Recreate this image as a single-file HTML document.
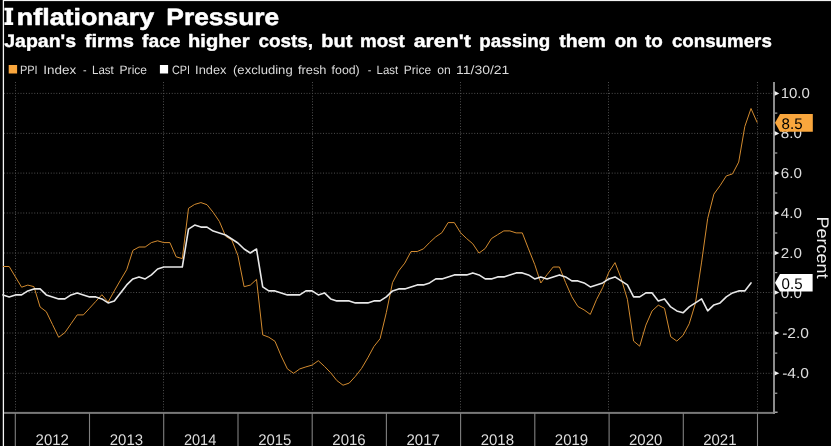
<!DOCTYPE html>
<html><head><meta charset="utf-8"><title>Inflationary Pressure</title>
<style>
html,body{margin:0;padding:0;background:#000;}
body{width:831px;height:446px;overflow:hidden;font-family:"Liberation Sans",sans-serif;}
svg{will-change:transform;display:block;position:absolute;left:0;top:0;}
svg text{font-family:"Liberation Sans",sans-serif;text-rendering:geometricPrecision;}
</style></head><body>
<svg width="831" height="446" viewBox="0 0 831 446">
<rect width="831" height="446" fill="#000"/>
<!-- frame lines -->
<rect x="3" y="0" width="828" height="1.1" fill="#f2f2f2"/>
<rect x="2.75" y="0" width="1.3" height="446" fill="#f6f6f6"/>
<!-- titles + legend -->
<g font-size="23.5" font-weight="bold" fill="#fff" stroke="#fff" stroke-width="0.55" stroke-linejoin="round"><text x="16.86" y="24.9" textLength="137.22" lengthAdjust="spacingAndGlyphs">nflationary</text><text x="166.38" y="24.9" textLength="112.80" lengthAdjust="spacingAndGlyphs">Pressure</text></g><g font-size="18.0" font-weight="bold" fill="#fff" stroke="#fff" stroke-width="0.4" stroke-linejoin="round"><text x="4.20" y="47.1" textLength="71.91" lengthAdjust="spacingAndGlyphs">Japan's</text><text x="84.70" y="47.1" textLength="49.21" lengthAdjust="spacingAndGlyphs">firms</text><text x="142.10" y="47.1" textLength="38.41" lengthAdjust="spacingAndGlyphs">face</text><text x="188.08" y="47.1" textLength="61.52" lengthAdjust="spacingAndGlyphs">higher</text><text x="258.40" y="47.1" textLength="54.65" lengthAdjust="spacingAndGlyphs">costs,</text><text x="321.29" y="47.1" textLength="31.00" lengthAdjust="spacingAndGlyphs">but</text><text x="359.96" y="47.1" textLength="44.84" lengthAdjust="spacingAndGlyphs">most</text><text x="413.70" y="47.1" textLength="57.29" lengthAdjust="spacingAndGlyphs">aren't</text><text x="479.36" y="47.1" textLength="70.88" lengthAdjust="spacingAndGlyphs">passing</text><text x="559.30" y="47.1" textLength="46.59" lengthAdjust="spacingAndGlyphs">them</text><text x="614.70" y="47.1" textLength="22.73" lengthAdjust="spacingAndGlyphs">on</text><text x="645.00" y="47.1" textLength="17.79" lengthAdjust="spacingAndGlyphs">to</text><text x="671.90" y="47.1" textLength="99.91" lengthAdjust="spacingAndGlyphs">consumers</text></g><g font-size="12.1" font-weight="normal" fill="#dadada"><text x="19.90" y="73.6" textLength="17.73" lengthAdjust="spacingAndGlyphs">PPI</text><text x="43.29" y="73.6" textLength="32.97" lengthAdjust="spacingAndGlyphs">Index</text><text x="83.00" y="73.6" textLength="3.62" lengthAdjust="spacingAndGlyphs">-</text><text x="92.00" y="73.6" textLength="21.79" lengthAdjust="spacingAndGlyphs">Last</text><text x="119.60" y="73.6" textLength="27.43" lengthAdjust="spacingAndGlyphs">Price</text><text x="171.90" y="73.6" textLength="18.12" lengthAdjust="spacingAndGlyphs">CPI</text><text x="195.14" y="73.6" textLength="31.41" lengthAdjust="spacingAndGlyphs">Index</text><text x="233.00" y="73.6" textLength="59.69" lengthAdjust="spacingAndGlyphs">(excluding</text><text x="297.90" y="73.6" textLength="28.57" lengthAdjust="spacingAndGlyphs">fresh</text><text x="331.60" y="73.6" textLength="28.13" lengthAdjust="spacingAndGlyphs">food)</text><text x="367.70" y="73.6" textLength="3.62" lengthAdjust="spacingAndGlyphs">-</text><text x="376.60" y="73.6" textLength="21.69" lengthAdjust="spacingAndGlyphs">Last</text><text x="403.80" y="73.6" textLength="27.33" lengthAdjust="spacingAndGlyphs">Price</text><text x="437.20" y="73.6" textLength="13.53" lengthAdjust="spacingAndGlyphs">on</text><text x="456.00" y="73.6" textLength="53.38" lengthAdjust="spacingAndGlyphs">11/30/21</text></g>
<path d="M4.4,7.8H13.2V10.5H11.2V22.2H13.2V24.9H4.4V22.2H6.5V10.5H4.4Z" fill="#fff"/>
<rect x="8.7" y="65" width="8.4" height="8.5" fill="#f9a63d"/>
<rect x="159.9" y="65" width="8.2" height="8.5" fill="#fff"/>
<!-- grid -->
<g stroke="#4e4e4e" stroke-width="1" stroke-dasharray="1 1.75"><line x1="4" x2="773" y1="93.4" y2="93.4"/><line x1="4" x2="773" y1="133.4" y2="133.4"/><line x1="4" x2="773" y1="173.1" y2="173.1"/><line x1="4" x2="773" y1="213.0" y2="213.0"/><line x1="4" x2="773" y1="253.0" y2="253.0"/><line x1="4" x2="773" y1="292.5" y2="292.5"/><line x1="4" x2="773" y1="333.0" y2="333.0"/><line x1="4" x2="773" y1="373.3" y2="373.3"/><line x1="15.5" x2="15.5" y1="82" y2="412"/><line x1="163.5" x2="163.5" y1="82" y2="412"/><line x1="312.5" x2="312.5" y1="82" y2="412"/><line x1="460.5" x2="460.5" y1="82" y2="412"/><line x1="608.5" x2="608.5" y1="82" y2="412"/><line x1="757.5" x2="757.5" y1="82" y2="412"/></g>
<!-- axes -->
<rect x="4" y="411.9" width="771" height="2" fill="#787878"/>
<rect x="773" y="82" width="2" height="332" fill="#8c8c8c"/>
<g stroke="#808080" stroke-width="1.1"><line x1="15.3" x2="15.3" y1="413" y2="446"/><line x1="89.5" x2="89.5" y1="413" y2="446"/><line x1="163.7" x2="163.7" y1="413" y2="446"/><line x1="238.0" x2="238.0" y1="413" y2="446"/><line x1="312.2" x2="312.2" y1="413" y2="446"/><line x1="386.4" x2="386.4" y1="413" y2="446"/><line x1="460.6" x2="460.6" y1="413" y2="446"/><line x1="534.8" x2="534.8" y1="413" y2="446"/><line x1="609.1" x2="609.1" y1="413" y2="446"/><line x1="683.3" x2="683.3" y1="413" y2="446"/><line x1="757.5" x2="757.5" y1="413" y2="446"/></g>
<g fill="#f0f0f0" stroke="none"><path d="M774.6,91.1 L779.3,93.4 L774.6,95.7 Z"/><path d="M774.6,131.1 L779.3,133.4 L774.6,135.7 Z"/><path d="M774.6,170.8 L779.3,173.1 L774.6,175.4 Z"/><path d="M774.6,210.7 L779.3,213.0 L774.6,215.3 Z"/><path d="M774.6,250.7 L779.3,253.0 L774.6,255.3 Z"/><path d="M774.6,290.2 L779.3,292.5 L774.6,294.8 Z"/><path d="M774.6,330.7 L779.3,333.0 L774.6,335.3 Z"/><path d="M774.6,371.0 L779.3,373.3 L774.6,375.6 Z"/></g>
<rect x="775" y="411.6" width="2.6" height="1.2" fill="#c8c8c8"/>
<g stroke="#c8c8c8" stroke-width="1"><line x1="775" x2="777.3" y1="113.1" y2="113.1"/><line x1="775" x2="777.3" y1="153.0" y2="153.0"/><line x1="775" x2="777.3" y1="193.0" y2="193.0"/><line x1="775" x2="777.3" y1="233.0" y2="233.0"/><line x1="775" x2="777.3" y1="272.7" y2="272.7"/><line x1="775" x2="777.3" y1="313.0" y2="313.0"/><line x1="775" x2="777.3" y1="353.1" y2="353.1"/><line x1="775" x2="777.3" y1="393.2" y2="393.2"/></g>
<g transform="translate(816.9,0) rotate(90)" font-size="16.8" font-weight="normal" fill="#f0f0f0"><text x="216.43" y="0" textLength="62.11" lengthAdjust="spacingAndGlyphs">Percent</text></g>
<g font-size="14.5" font-weight="normal" fill="#dcdcdc"><text x="780.67" y="98.4" textLength="29.20" lengthAdjust="spacingAndGlyphs">10.0</text><text x="780.80" y="138.4" textLength="21.07" lengthAdjust="spacingAndGlyphs">8.0</text><text x="780.80" y="178.1" textLength="21.07" lengthAdjust="spacingAndGlyphs">6.0</text><text x="780.80" y="218.0" textLength="21.07" lengthAdjust="spacingAndGlyphs">4.0</text><text x="780.80" y="258.0" textLength="21.07" lengthAdjust="spacingAndGlyphs">2.0</text><text x="780.80" y="297.5" textLength="21.07" lengthAdjust="spacingAndGlyphs">0.0</text><text x="782.20" y="338.0" textLength="26.77" lengthAdjust="spacingAndGlyphs">-2.0</text><text x="782.20" y="378.3" textLength="26.77" lengthAdjust="spacingAndGlyphs">-4.0</text></g><g font-size="15.4" font-weight="normal" fill="#dcdcdc"><text x="35.59" y="444.7" textLength="33.34" lengthAdjust="spacingAndGlyphs">2012</text><text x="109.77" y="444.7" textLength="33.34" lengthAdjust="spacingAndGlyphs">2013</text><text x="183.95" y="444.7" textLength="32.38" lengthAdjust="spacingAndGlyphs">2014</text><text x="258.13" y="444.7" textLength="33.34" lengthAdjust="spacingAndGlyphs">2015</text><text x="332.31" y="444.7" textLength="33.34" lengthAdjust="spacingAndGlyphs">2016</text><text x="406.49" y="444.7" textLength="33.34" lengthAdjust="spacingAndGlyphs">2017</text><text x="480.67" y="444.7" textLength="33.34" lengthAdjust="spacingAndGlyphs">2018</text><text x="554.85" y="444.7" textLength="33.34" lengthAdjust="spacingAndGlyphs">2019</text><text x="629.03" y="444.7" textLength="33.34" lengthAdjust="spacingAndGlyphs">2020</text><text x="703.21" y="444.7" textLength="33.34" lengthAdjust="spacingAndGlyphs">2021</text></g>
<!-- series -->
<polyline points="3.0,266.5 9.2,266.5 15.4,276.9 21.6,287.2 27.8,285.1 33.9,286.6 40.1,307.0 46.3,311.7 52.5,324.5 58.7,337.3 64.9,332.6 71.0,323.8 77.2,314.9 83.4,314.9 89.6,308.2 95.8,301.4 101.9,294.7 108.1,302.1 114.3,290.9 120.5,280.1 126.7,269.7 132.9,250.4 139.0,247.0 145.2,247.0 151.4,242.6 157.6,240.8 163.8,242.6 169.9,242.6 176.1,256.8 182.3,258.6 188.5,208.3 194.7,204.4 200.9,202.6 207.0,204.7 213.2,212.4 219.4,221.5 225.6,236.2 231.8,240.1 237.9,255.5 244.1,286.7 250.3,285.1 256.5,279.4 262.7,334.9 268.8,337.2 275.0,341.3 281.2,356.0 287.4,368.9 293.6,373.3 299.8,368.9 305.9,366.9 312.1,365.1 318.3,360.7 324.5,366.4 330.7,372.8 336.8,380.5 343.0,385.2 349.2,383.1 355.4,376.3 361.6,368.4 367.8,357.8 373.9,346.5 380.1,338.7 386.3,312.7 392.5,282.7 398.7,270.9 404.8,263.1 411.0,251.5 417.2,251.5 423.4,248.9 429.6,242.5 435.8,236.8 441.9,232.7 448.1,222.6 454.3,222.6 460.5,232.7 466.7,238.6 472.8,243.8 479.0,253.1 485.2,248.5 491.4,238.6 497.6,234.7 503.8,230.9 509.9,230.9 516.1,232.9 522.3,232.9 528.5,248.9 534.7,264.4 540.8,283.0 547.0,274.7 553.2,267.0 559.4,267.0 565.6,282.5 571.8,296.7 577.9,306.5 584.1,309.9 590.3,314.4 596.5,299.6 602.7,287.6 608.8,272.2 615.0,262.6 621.2,278.6 627.4,299.3 633.6,341.1 639.7,346.2 645.9,325.1 652.1,310.9 658.3,305.2 664.5,308.3 670.7,336.7 676.8,341.1 683.0,335.4 689.2,323.8 695.4,303.4 701.6,262.1 707.7,218.4 713.9,194.1 720.1,185.6 726.3,175.9 732.5,173.9 738.7,162.1 744.8,126.5 751.0,108.5 757.2,122.6" fill="none" stroke="#d38b2f" stroke-width="1.0" stroke-linejoin="round"/>
<polyline points="3.0,294.9 9.2,296.9 15.4,294.9 21.6,294.9 27.8,290.9 33.9,288.9 40.1,288.9 46.3,294.9 52.5,296.9 58.7,298.9 64.9,298.9 71.0,294.9 77.2,292.9 83.4,294.9 89.6,296.9 95.8,296.9 101.9,298.9 108.1,302.9 114.3,300.9 120.5,292.9 126.7,284.9 132.9,278.9 139.0,276.9 145.2,278.9 151.4,274.9 157.6,269.0 163.8,267.0 169.9,267.0 176.1,267.0 182.3,267.0 188.5,229.1 194.7,225.1 200.9,227.1 207.0,227.1 213.2,231.1 219.4,233.0 225.6,235.0 231.8,239.0 237.9,243.0 244.1,249.0 250.3,253.0 256.5,249.0 262.7,286.9 268.8,290.9 275.0,290.9 281.2,292.9 287.4,294.9 293.6,294.9 299.8,294.9 305.9,290.9 312.1,290.9 318.3,294.9 324.5,292.9 330.7,298.9 336.8,300.9 343.0,300.9 349.2,300.9 355.4,302.9 361.6,302.9 367.8,302.9 373.9,300.9 380.1,300.9 386.3,296.9 392.5,290.9 398.7,288.9 404.8,288.9 411.0,286.9 417.2,284.9 423.4,284.9 429.6,282.9 435.8,278.9 441.9,278.9 448.1,276.9 454.3,274.9 460.5,274.9 466.7,274.9 472.8,272.9 479.0,274.9 485.2,278.9 491.4,278.9 497.6,276.9 503.8,276.9 509.9,274.9 516.1,272.9 522.3,272.9 528.5,274.9 534.7,278.9 540.8,276.9 547.0,278.9 553.2,276.9 559.4,274.9 565.6,276.9 571.8,280.9 577.9,280.9 584.1,282.9 590.3,286.9 596.5,284.9 602.7,282.9 608.8,278.9 615.0,276.9 621.2,280.9 627.4,284.9 633.6,296.9 639.7,296.9 645.9,292.9 652.1,292.9 658.3,300.9 664.5,298.9 670.7,306.9 676.8,310.9 683.0,312.8 689.2,306.9 695.4,302.9 701.6,298.9 707.7,310.9 713.9,304.9 720.1,302.9 726.3,296.9 732.5,292.9 738.7,290.9 744.8,290.9 751.0,282.9" fill="none" stroke="#e8e8e8" stroke-width="1.6" stroke-linejoin="round" stroke-linecap="round"/>
<!-- flags -->
<path d="M775,122.7 L780,113.9 L812.8,113.9 L812.8,131.7 L780,131.7 Z" fill="#f9a63d"/>
<path d="M775,282.8 L780,274.1 L812.6,274.1 L812.6,291.6 L780,291.6 Z" fill="#fff"/>
<g font-size="15.4" font-weight="normal" fill="#000"><text x="781.60" y="128.5" textLength="20.95" lengthAdjust="spacingAndGlyphs">8.5</text><text x="781.60" y="288.9" textLength="20.95" lengthAdjust="spacingAndGlyphs">0.5</text></g>
</svg>
</body></html>
